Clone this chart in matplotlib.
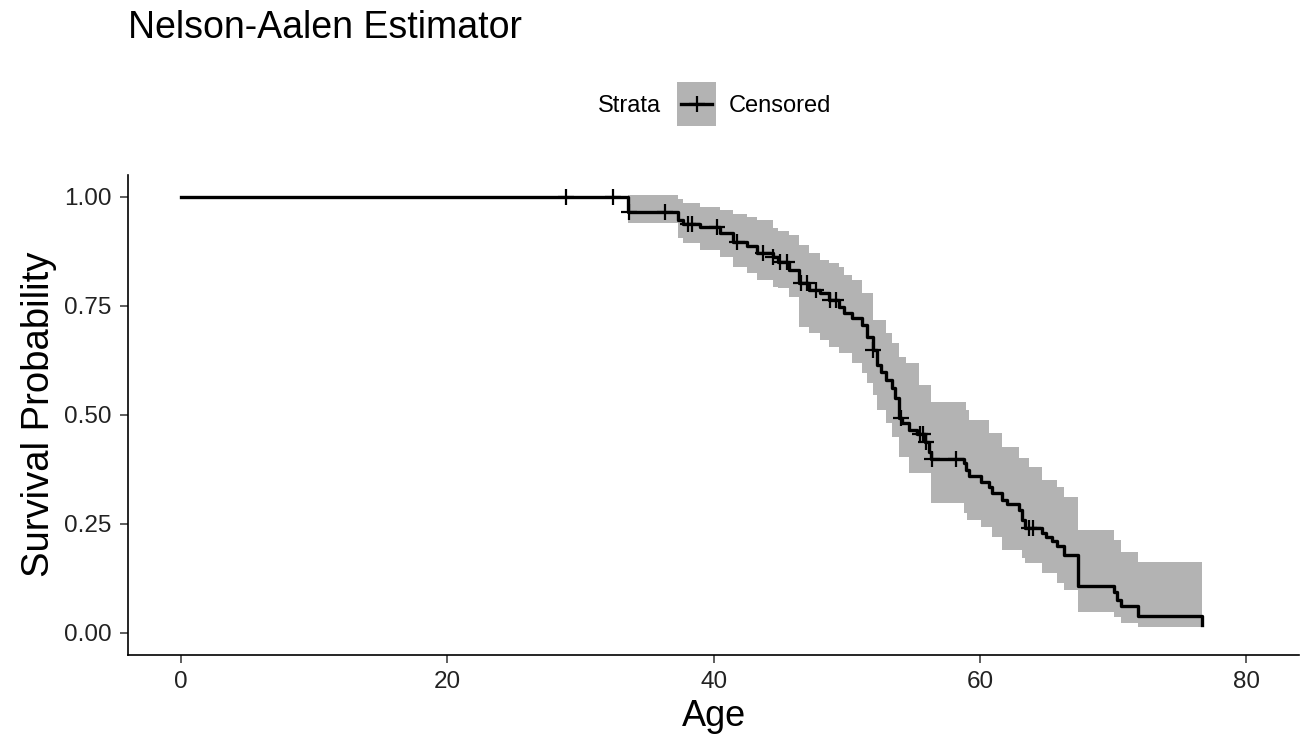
import numpy as np
import matplotlib.pyplot as plt
from matplotlib.patches import Rectangle
from matplotlib.lines import Line2D

plt.rcParams['font.family'] = ['Liberation Sans', 'DejaVu Sans']

# step times (age) with survival estimate and confidence band after each step
age = [0.0, 33.56, 37.31, 37.68, 38.95, 40.45, 41.42, 42.47, 43.22, 44.42,
       44.80, 45.69, 46.44, 47.19, 47.95, 48.69, 49.44, 49.81, 50.41, 51.17,
       51.50, 51.95, 52.25, 52.59, 52.96, 53.41, 53.64, 53.93, 54.16, 54.46,
       54.68, 55.28, 55.44, 55.88, 56.18, 56.33, 58.81, 58.96, 59.03, 59.18,
       60.08, 60.67, 60.90, 61.65, 62.03, 62.93, 63.15, 63.37, 63.67, 64.64,
       64.94, 65.40, 65.77, 66.30, 67.35, 70.04, 70.33, 70.57, 71.84, 76.70]
surv = [1.000, 0.964, 0.946, 0.937, 0.930, 0.916, 0.896, 0.887, 0.870, 0.861,
        0.850, 0.832, 0.802, 0.786, 0.779, 0.763, 0.747, 0.733, 0.722, 0.706,
        0.678, 0.648, 0.614, 0.598, 0.580, 0.561, 0.538, 0.493, 0.481, 0.481,
        0.465, 0.456, 0.456, 0.438, 0.415, 0.399, 0.389, 0.373, 0.373, 0.360,
        0.346, 0.334, 0.321, 0.305, 0.296, 0.282, 0.259, 0.241, 0.241, 0.229,
        0.220, 0.211, 0.199, 0.179, 0.108, 0.094, 0.076, 0.062, 0.039, 0.018]
lower = [1.000, 0.939, 0.905, 0.893, 0.877, 0.861, 0.838, 0.825, 0.809, 0.793,
         0.790, 0.770, 0.701, 0.687, 0.671, 0.655, 0.641, 0.641, 0.619, 0.596,
         0.573, 0.545, 0.511, 0.511, 0.481, 0.449, 0.449, 0.403, 0.403, 0.403,
         0.367, 0.367, 0.367, 0.367, 0.367, 0.298, 0.275, 0.275, 0.259, 0.259,
         0.243, 0.243, 0.220, 0.190, 0.190, 0.190, 0.172, 0.160, 0.160, 0.137,
         0.137, 0.137, 0.115, 0.099, 0.048, 0.037, 0.037, 0.023, 0.014, 0.014]
upper = [1.000, 1.004, 0.995, 0.985, 0.976, 0.969, 0.960, 0.953, 0.946, 0.928,
         0.920, 0.912, 0.889, 0.871, 0.855, 0.848, 0.838, 0.820, 0.809, 0.779,
         0.779, 0.717, 0.717, 0.717, 0.687, 0.664, 0.664, 0.632, 0.632, 0.619,
         0.619, 0.619, 0.568, 0.568, 0.568, 0.529, 0.529, 0.511, 0.511, 0.488,
         0.488, 0.458, 0.458, 0.426, 0.426, 0.401, 0.401, 0.401, 0.380, 0.351,
         0.351, 0.351, 0.334, 0.312, 0.236, 0.213, 0.213, 0.186, 0.163, 0.163]

# censored observations
censor_age = [28.92, 32.43, 33.60, 36.34, 38.05, 38.36, 40.22, 41.73, 43.68,
              44.46, 44.95, 45.54, 46.53, 46.97, 47.71, 48.75, 49.22, 51.98,
              54.08, 55.50, 55.73, 55.96, 56.42, 58.20, 63.70, 64.00]

age = np.array(age)
surv = np.array(surv)
idx = np.searchsorted(age, censor_age, side='right') - 1
censor_surv = surv[idx]

fig = plt.figure(figsize=(13.06, 7.5), dpi=100)
ax = fig.add_axes([0.098, 0.127, 0.897, 0.64])

ax.fill_between(age, lower, upper, step='post', color='#b3b3b3', lw=0)
ax.step(age, surv, where='post', color='black', lw=2.4)
ax.plot(censor_age, censor_surv, ls='none', marker='+', ms=11, mew=1.6,
        color='black')

ax.set_xlim(-4, 84)
ax.set_ylim(-0.05, 1.05)
ax.set_xticks([0, 20, 40, 60, 80])
ax.set_yticks([0, 0.25, 0.5, 0.75, 1.0])
ax.set_yticklabels(['0.00', '0.25', '0.50', '0.75', '1.00'])
ax.tick_params(labelsize=17.5, length=6, width=1.1, color='#333333',
               labelcolor='#222222', pad=6)
for side in ['top', 'right']:
    ax.spines[side].set_visible(False)
for side in ['left', 'bottom']:
    ax.spines[side].set_linewidth(1.2)

ax.set_xlabel('Age', fontsize=26, labelpad=4)
ax.set_ylabel('Survival Probability', fontsize=27.5, labelpad=5)

fig.text(0.098, 0.963, 'Nelson-Aalen Estimator', fontsize=27, va='center')

# legend strip above the panel
fig.text(0.506, 0.859, 'Strata', fontsize=17, ha='right', va='center')
fig.patches.append(Rectangle((0.5185, 0.832), 0.030, 0.058,
                             transform=fig.transFigure,
                             facecolor='#b3b3b3', edgecolor='none'))
fig.lines.append(Line2D([0.5215, 0.5455], [0.861, 0.861],
                        transform=fig.transFigure, color='black', lw=2.4))
fig.lines.append(Line2D([0.5335], [0.861], transform=fig.transFigure,
                        marker='+', ms=11, mew=1.6, color='black'))
fig.text(0.558, 0.859, 'Censored', fontsize=17, ha='left', va='center')

fig.savefig('out.png', dpi=100)
